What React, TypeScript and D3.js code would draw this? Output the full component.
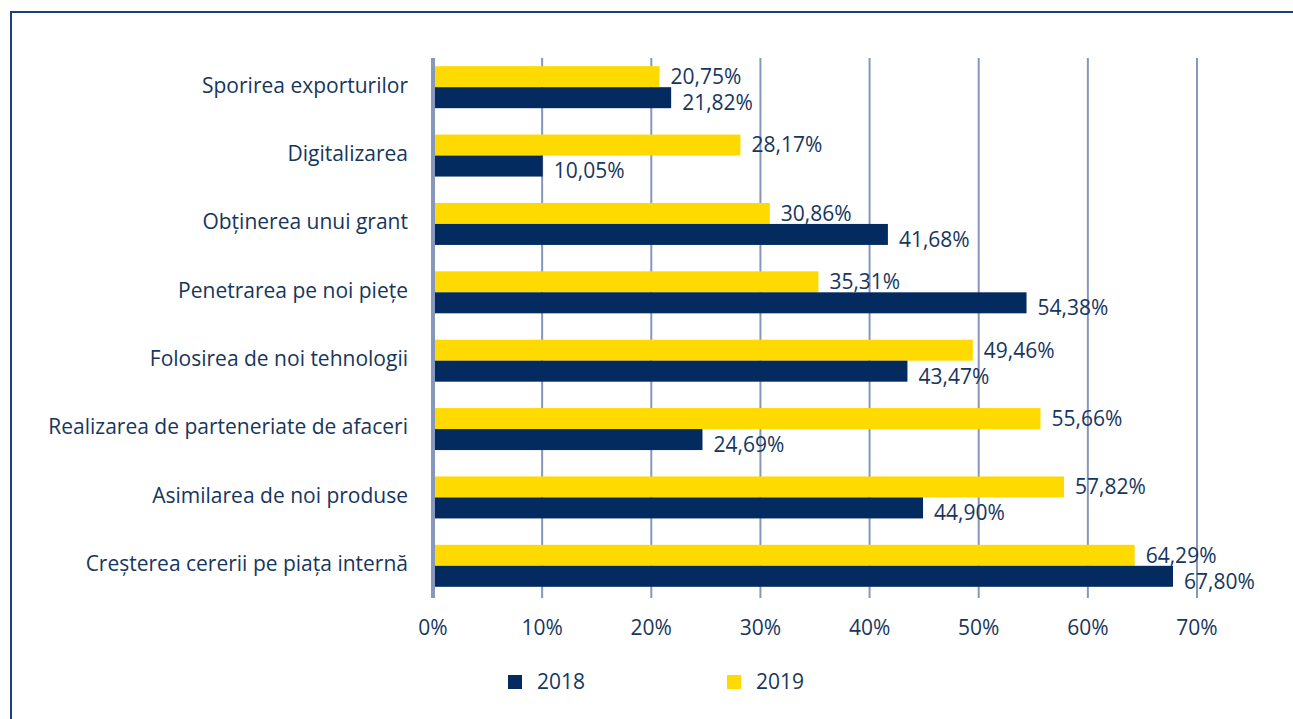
import { scaleBand, scaleLinear, range } from "d3";

const categories = [
  "Sporirea exporturilor",
  "Digitalizarea",
  "Obținerea unui grant",
  "Penetrarea pe noi piețe",
  "Folosirea de noi tehnologii",
  "Realizarea de parteneriate de afaceri",
  "Asimilarea de noi produse",
  "Creșterea cererii pe piața internă",
];
const values2019 = [20.75, 28.17, 30.86, 35.31, 49.46, 55.66, 57.82, 64.29];
const values2018 = [21.82, 10.05, 41.68, 54.38, 43.47, 24.69, 44.9, 67.8];
const tickValues = [0, 10, 20, 30, 40, 50, 60, 70];
const seriesNames = ["2018", "2019"];

const navy = "#032b5f";
const yellow = "#ffda00";
const textColor = "#17365d";
const gridColor = "#8796bb";
const font = "'Open Sans', sans-serif";

const fmt = (v: number) => v.toFixed(2).replace(".", ",") + "%";

export default function App() {
  const width = 1293,
    height = 719;
  const x = scaleLinear().domain([0, 70]).range([433, 1197]);
  const y = scaleBand<number>()
    .domain(range(categories.length))
    .range([53, 600]);
  const barH = 21;
  const gridTop = 58,
    gridBottom = 598;

  return (
    <svg
      width={width}
      height={height}
      style={{ position: "absolute", left: 0, top: 0, background: "#fff" }}
      fontFamily={font}
    >
      <rect x={11} y={12} width={1400} height={800} fill="none" stroke="#1a3f7a" strokeWidth={2} />

      {/* gridlines */}
      {tickValues.map((t) => (
        <line
          key={t}
          x1={x(t)}
          x2={x(t)}
          y1={gridTop}
          y2={gridBottom}
          stroke={gridColor}
          strokeWidth={t === 0 ? 4 : 2}
        />
      ))}

      {/* bars */}
      {categories.map((c, i) => {
        const cy = (y(i) ?? 0) + y.bandwidth() / 2;
        const w19 = x(values2019[i]) - x(0);
        const w18 = x(values2018[i]) - x(0);
        return (
          <g key={c}>
            <rect x={x(0) + 2} y={cy - barH} width={w19 - 2} height={barH} fill={yellow} />
            <rect x={x(0) + 2} y={cy} width={w18 - 2} height={barH} fill={navy} />
            <text
              x={x(values2019[i]) + 11}
              y={cy - barH / 2}
              dy="0.35em"
              fontSize={21}
              fill={textColor}
            >
              {fmt(values2019[i])}
            </text>
            <text
              x={x(values2018[i]) + 11}
              y={cy + barH / 2 + 5}
              dy="0.35em"
              fontSize={21}
              fill={textColor}
            >
              {fmt(values2018[i])}
            </text>
            <text
              x={408}
              y={cy - 2}
              dy="0.35em"
              textAnchor="end"
              fontSize={21}
              fill={textColor}
            >
              {c}
            </text>
          </g>
        );
      })}

      {/* x tick labels */}
      {tickValues.map((t) => (
        <text
          key={"l" + t}
          x={x(t)}
          y={628}
          dy="0.35em"
          textAnchor="middle"
          fontSize={21}
          fill={textColor}
        >
          {t + "%"}
        </text>
      ))}

      {/* legend */}
      {seriesNames.map((s, i) => {
        const lx = 508 + i * 219;
        return (
          <g key={s}>
            <rect x={lx} y={675} width={14} height={14} fill={i === 0 ? navy : yellow} />
            <text x={lx + 29} y={682} dy="0.35em" fontSize={21} fill={textColor}>
              {s}
            </text>
          </g>
        );
      })}
    </svg>
  );
}
